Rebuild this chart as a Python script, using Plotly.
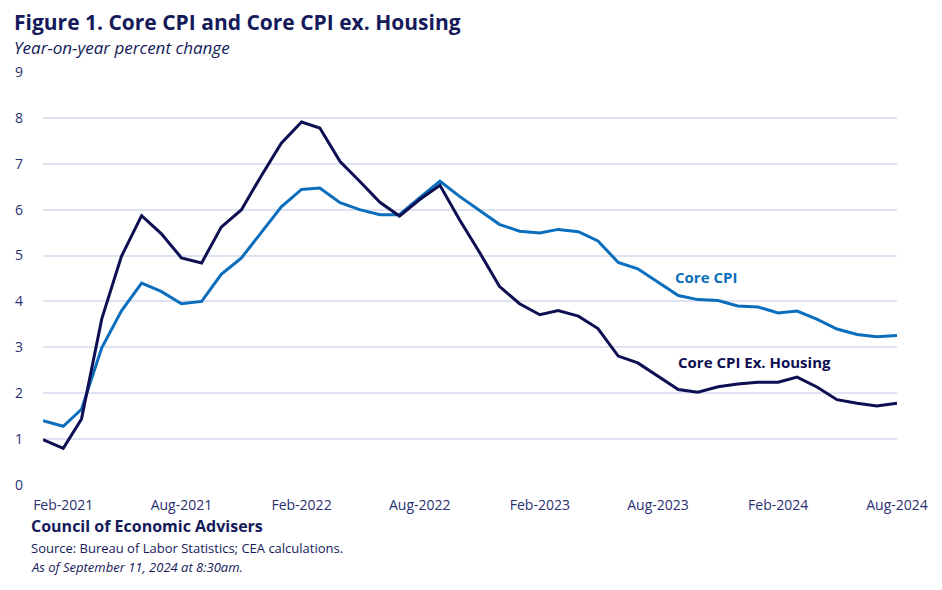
import plotly.graph_objects as go
import pandas as pd

months = pd.date_range("2021-01-01", "2024-08-01", freq="MS")

core_cpi = [1.40, 1.28, 1.65, 2.99, 3.79, 4.40, 4.22, 3.95, 4.00, 4.59, 4.95, 5.49,
            6.06, 6.44, 6.47, 6.15, 6.00, 5.89, 5.89, 6.26, 6.62, 6.29, 5.97, 5.68,
            5.53, 5.49, 5.57, 5.52, 5.32, 4.85, 4.71, 4.42, 4.13, 4.04, 4.02, 3.90,
            3.88, 3.75, 3.79, 3.61, 3.40, 3.28, 3.23, 3.26]

core_ex_housing = [0.99, 0.80, 1.44, 3.62, 4.98, 5.87, 5.48, 4.95, 4.84, 5.62, 6.00, 6.73,
                   7.45, 7.91, 7.78, 7.05, 6.62, 6.16, 5.86, 6.22, 6.53, 5.78, 5.06, 4.33,
                   3.95, 3.71, 3.80, 3.68, 3.41, 2.81, 2.66, 2.37, 2.08, 2.02, 2.14, 2.20,
                   2.24, 2.24, 2.35, 2.13, 1.86, 1.78, 1.72, 1.78]

tick_dates = ["2021-02-01", "2021-08-01", "2022-02-01", "2022-08-01",
              "2023-02-01", "2023-08-01", "2024-02-01", "2024-08-01"]
tick_labels = ["Feb-2021", "Aug-2021", "Feb-2022", "Aug-2022",
               "Feb-2023", "Aug-2023", "Feb-2024", "Aug-2024"]

NAVY = "#0d0f52"
BLUE = "#0a6ebd"
TEXT = "#141a5a"
FONT = "Open Sans"

# page body adds an 8px offset; plot area in figure coordinates
OFF = 8
L, R, T, B = 43 - OFF, 897 - OFF, 72 - OFF, 485.5 - OFF
W, H = 942, 590
PW, PH = R - L, B - T

fig = go.Figure()
fig.add_trace(go.Scatter(x=months, y=core_cpi, mode="lines", name="Core CPI",
                         line=dict(color=BLUE, width=3)))
fig.add_trace(go.Scatter(x=months, y=core_ex_housing, mode="lines", name="Core CPI Ex. Housing",
                         line=dict(color=NAVY, width=3)))

fig.update_layout(
    width=W, height=H,
    margin=dict(l=L, r=W - R, t=T, b=H - B),
    paper_bgcolor="white", plot_bgcolor="white",
    showlegend=False,
    font=dict(family=FONT, color=TEXT, size=14),
    xaxis=dict(range=[months[0], months[-1]], tickvals=tick_dates, ticktext=tick_labels,
               showgrid=False, zeroline=False, showline=False, ticks="", automargin=False,
               ticklabelstandoff=10, tickfont=dict(size=14, color="#2a3070")),
    yaxis=dict(range=[0, 9], dtick=1, showgrid=True, gridcolor="#dfe2f0", gridwidth=1.5,
               zeroline=False, showline=False, ticks="", ticklabelstandoff=19, automargin=False,
               tickfont=dict(size=14, color="#2a3070")),
)


def px(x):
    return (x - OFF - L) / PW


def py(y):
    return (B - (y - OFF)) / PH


anns = [
    dict(text="<b>Figure 1. Core CPI and Core CPI ex. Housing</b>", x=12, y=22, size=21, color=TEXT),
    dict(text="<i>Year-on-year percent change</i>", x=12, y=47, size=17, color=TEXT),
    dict(text="<b>Council of Economic Advisers</b>", x=29, y=527, size=16, color=TEXT),
    dict(text="Source: Bureau of Labor Statistics; CEA calculations.", x=29, y=549, size=13, color=TEXT),
    dict(text="<i>As of September 11, 2024 at 8:30am.</i>", x=29, y=568, size=13, color=TEXT),
]
for a in anns:
    fig.add_annotation(text=a["text"], xref="paper", yref="paper",
                       x=px(a["x"]), y=py(a["y"]),
                       xanchor="left", yanchor="middle", showarrow=False,
                       font=dict(size=a["size"], color=a["color"], family=FONT))

fig.add_annotation(text="<b>Core CPI</b>", xref="paper", yref="paper",
                   x=px(673), y=py(277), xanchor="left", yanchor="middle",
                   showarrow=False, font=dict(size=15, color=BLUE, family=FONT))
fig.add_annotation(text="<b>Core CPI Ex. Housing</b>", xref="paper", yref="paper",
                   x=px(676), y=py(362), xanchor="left", yanchor="middle",
                   showarrow=False, font=dict(size=15, color=NAVY, family=FONT))

fig.write_html("out.html")
